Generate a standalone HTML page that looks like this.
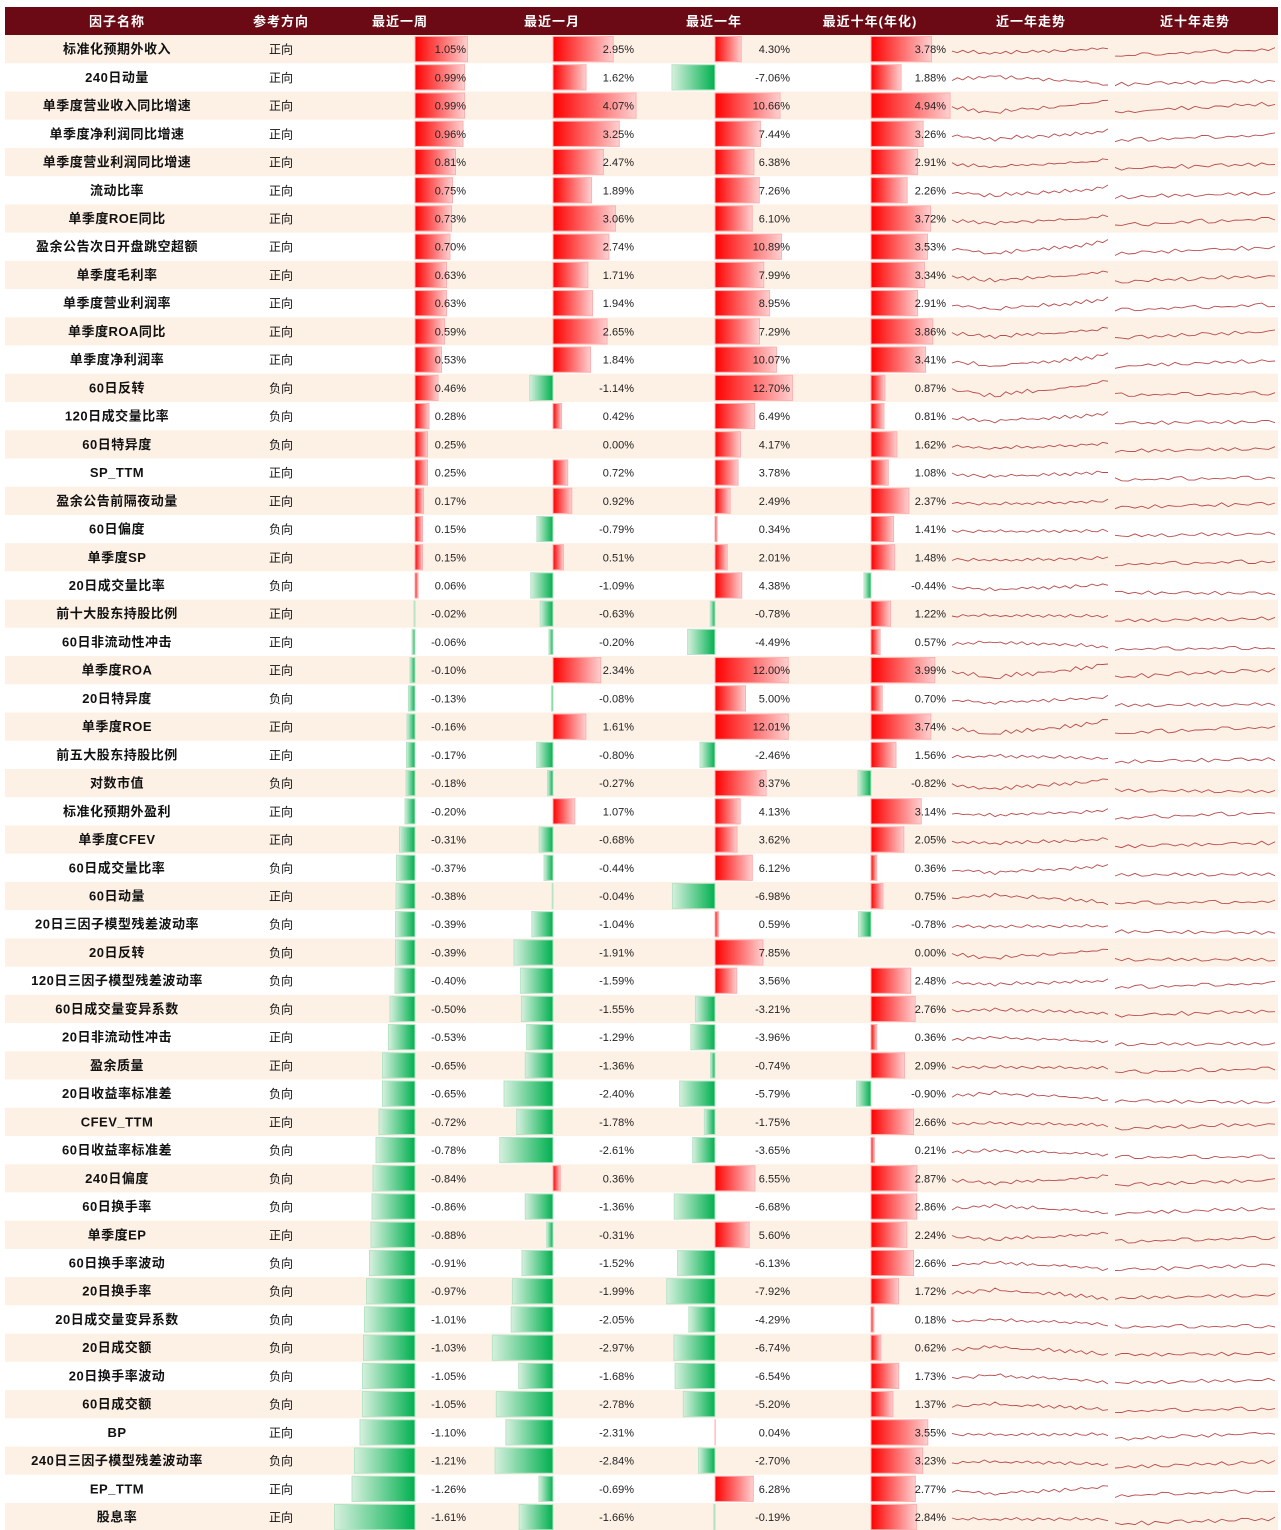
<!DOCTYPE html>
<html><head><meta charset="utf-8">
<style>
html,body{margin:0;padding:0;background:#fff;}
body{width:1281px;height:1530px;overflow:hidden;position:relative;font-family:"Liberation Sans","Noto Sans CJK SC",sans-serif;}
</style></head>
<body>
<svg id="chart" width="1281" height="1530" xmlns="http://www.w3.org/2000/svg" style="position:absolute;left:0;top:0">
<defs>
<linearGradient id="gRed" x1="0" x2="1" y1="0" y2="0"><stop offset="0" stop-color="#ff0000"/><stop offset="1" stop-color="#ffd0d0"/></linearGradient>
<linearGradient id="gGreen" x1="0" x2="1" y1="0" y2="0"><stop offset="0" stop-color="#d6f0de"/><stop offset="1" stop-color="#00b04f"/></linearGradient>
</defs>
</svg>
<script>
const names=["标准化预期外收入","240日动量","单季度营业收入同比增速","单季度净利润同比增速","单季度营业利润同比增速","流动比率","单季度ROE同比","盈余公告次日开盘跳空超额","单季度毛利率","单季度营业利润率","单季度ROA同比","单季度净利润率","60日反转","120日成交量比率","60日特异度","SP_TTM","盈余公告前隔夜动量","60日偏度","单季度SP","20日成交量比率","前十大股东持股比例","60日非流动性冲击","单季度ROA","20日特异度","单季度ROE","前五大股东持股比例","对数市值","标准化预期外盈利","单季度CFEV","60日成交量比率","60日动量","20日三因子模型残差波动率","20日反转","120日三因子模型残差波动率","60日成交量变异系数","20日非流动性冲击","盈余质量","20日收益率标准差","CFEV_TTM","60日收益率标准差","240日偏度","60日换手率","单季度EP","60日换手率波动","20日换手率","20日成交量变异系数","20日成交额","20日换手率波动","60日成交额","BP","240日三因子模型残差波动率","EP_TTM","股息率"];
const dirs=["正向","正向","正向","正向","正向","正向","正向","正向","正向","正向","正向","正向","负向","负向","负向","正向","正向","负向","正向","负向","正向","正向","正向","负向","正向","正向","负向","正向","正向","负向","正向","负向","负向","负向","负向","正向","正向","负向","正向","负向","负向","负向","正向","负向","负向","负向","负向","负向","负向","正向","负向","正向","正向"];
const week=[1.05,0.99,0.99,0.96,0.81,0.75,0.73,0.70,0.63,0.63,0.59,0.53,0.46,0.28,0.25,0.25,0.17,0.15,0.15,0.06,-0.02,-0.06,-0.10,-0.13,-0.16,-0.17,-0.18,-0.20,-0.31,-0.37,-0.38,-0.39,-0.39,-0.40,-0.50,-0.53,-0.65,-0.65,-0.72,-0.78,-0.84,-0.86,-0.88,-0.91,-0.97,-1.01,-1.03,-1.05,-1.05,-1.10,-1.21,-1.26,-1.61];
const month=[2.95,1.62,4.07,3.25,2.47,1.89,3.06,2.74,1.71,1.94,2.65,1.84,-1.14,0.42,0.00,0.72,0.92,-0.79,0.51,-1.09,-0.63,-0.20,2.34,-0.08,1.61,-0.80,-0.27,1.07,-0.68,-0.44,-0.04,-1.04,-1.91,-1.59,-1.55,-1.29,-1.36,-2.40,-1.78,-2.61,0.36,-1.36,-0.31,-1.52,-1.99,-2.05,-2.97,-1.68,-2.78,-2.31,-2.84,-0.69,-1.66];
const year=[4.30,-7.06,10.66,7.44,6.38,7.26,6.10,10.89,7.99,8.95,7.29,10.07,12.70,6.49,4.17,3.78,2.49,0.34,2.01,4.38,-0.78,-4.49,12.00,5.00,12.01,-2.46,8.37,4.13,3.62,6.12,-6.98,0.59,7.85,3.56,-3.21,-3.96,-0.74,-5.79,-1.75,-3.65,6.55,-6.68,5.60,-6.13,-7.92,-4.29,-6.74,-6.54,-5.20,0.04,-2.70,6.28,-0.19];
const tenYear=[3.78,1.88,4.94,3.26,2.91,2.26,3.72,3.53,3.34,2.91,3.86,3.41,0.87,0.81,1.62,1.08,2.37,1.41,1.48,-0.44,1.22,0.57,3.99,0.70,3.74,1.56,-0.82,3.14,2.05,0.36,0.75,-0.78,0.00,2.48,2.76,0.36,2.09,-0.90,2.66,0.21,2.87,2.86,2.24,2.66,1.72,0.18,0.62,1.73,1.37,3.55,3.23,2.77,2.84];
const headers=["因子名称","参考方向","最近一周","最近一月","最近一年","最近十年(年化)","近一年走势","近十年走势"];
const sparkYearShape=[0,-0.6,-0.3,-1.5,-1.1,-2.4,-3.2,-2.6,-3.9,-3.0,-1.8,-2.3,-1.0,-1.4,-0.5,-1.2,-0.6,0.3,-0.2,0.8,0.4,1.6,1.1,2.4,2.0,3.3,3.0,4.3,5.0,6.0];
const sparkTenShape=[0,0.6,0.2,0.9,1.4,0.9,1.7,2.1,1.6,2.4,2.9,2.3,2.8,3.4,2.9,3.3,3.9,3.5,4.0,4.6,4.1,4.4,5.0,4.6,5.2];
const noise=[0,0.8,-0.6,0.5,-0.9,0.7,-0.3,1.0,-0.7,0.4,-0.5,0.9,-0.8,0.3,0.6,-1.0,0.5,-0.4,0.8,-0.6,0.2,0.9,-0.7,0.4,-0.3,0.6,-0.9,0.5,-0.2,0.7];

const svg=document.getElementById('chart');
const NS='http://www.w3.org/2000/svg';
const top0=35, rowH=28.23, L=5, R=1278;
function mk(t,a,p){const e=document.createElementNS(NS,t);for(const k in a)e.setAttribute(k,a[k]);(p||svg).appendChild(e);return e;}
const cols=[{d:week,z:415,s:50,lx:466},{d:month,z:553,s:20.4,lx:634},{d:year,z:715,s:6.1,lx:790},{d:tenYear,z:871,s:16,lx:946}];
const rowY=i=>top0+i*rowH;

const hdr=mk('rect',{x:L,y:7,width:R-L,height:28,fill:'#6b0a14'});


const hx=[117,281,400,552,714,870,1031,1195];
headers.forEach((h,j)=>{
 const t=mk('text',{x:hx[j],y:26,'text-anchor':'middle',fill:'#fff','font-size':13,'font-weight':'bold','letter-spacing':'1'});
 t.textContent=h;
 
 
});

names.forEach((n,i)=>{
 const y=rowY(i), cy=y+rowH/2;
 const g=mk('g',{});
 
 
 mk('rect',{x:L,y:y,width:R-L,height:rowH+0.3,fill:i%2===0?'#fdf1e6':'#ffffff'},g);
 const tn=mk('text',{x:117,y:cy+4.5,'text-anchor':'middle',fill:'#111','font-size':13,'font-weight':'bold','letter-spacing':'0.5'},g);
 tn.textContent=n;
 
 
 const td=mk('text',{x:281,y:cy+4.5,'text-anchor':'middle',fill:'#111','font-size':12},g);
 td.textContent=dirs[i];
 
 
 cols.forEach((c,k)=>{
  const v=c.d[i], w=Math.abs(v)*c.s;
  if(w>0.1){
   const b=mk('rect',{x:v>=0?c.z:c.z-w,y:y+1.5,width:w,height:rowH-3,fill:v>=0?'url(#gRed)':'url(#gGreen)',stroke:v>=0?'#ffb0b0':'#b8e4c6','stroke-width':1},g);
   
   
  }
  const tl=mk('text',{x:c.lx,y:cy+4,'text-anchor':'end',fill:'#222','font-size':11},g);
  tl.textContent=v.toFixed(2)+'%';
  
  
 });
 const ys=year[i]/12, ts=tenYear[i]/5;
 const n1=sparkYearShape.length;
 const p1=sparkYearShape.map((s,j)=>{const x=952+j*(156/(n1-1));const yy=cy+2-s*ys*1.6+noise[(j+i)%noise.length]*1.6;return x.toFixed(1)+','+Math.max(y+2,Math.min(y+rowH-2,yy)).toFixed(1);}).join(' ');
 const s1=mk('polyline',{points:p1,fill:'none',stroke:'#b84a4a','stroke-width':0.9},g);
 
 
 const n2=sparkTenShape.length;
 const p2=sparkTenShape.map((s,j)=>{const x=1115+j*(160/(n2-1));const yy=cy+7-s*ts*1.8+noise[(j*3+i)%noise.length]*1.8;return x.toFixed(1)+','+Math.max(y+2,Math.min(y+rowH-2,yy)).toFixed(1);}).join(' ');
 const s2=mk('polyline',{points:p2,fill:'none',stroke:'#b84a4a','stroke-width':0.9},g);
 
 
});
</script>
</body></html>
